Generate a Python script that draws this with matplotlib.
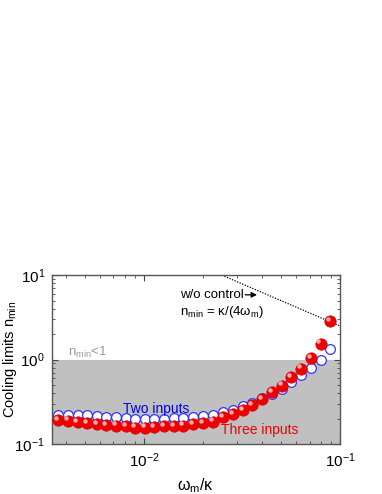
import matplotlib
matplotlib.use("Agg")
import matplotlib.pyplot as plt
from matplotlib.ticker import LogLocator, NullFormatter

plt.rcParams['font.family'] = ['Liberation Sans', 'DejaVu Sans']
plt.rcParams['mathtext.fontset'] = 'custom'
plt.rcParams['mathtext.rm'] = 'Liberation Sans'
plt.rcParams['mathtext.it'] = 'Liberation Sans'

# omega_m / kappa
wm = [0.00366, 0.00411, 0.00459, 0.00514, 0.00575, 0.00645, 0.00723, 0.00809,
      0.00903, 0.0101, 0.0113, 0.0127, 0.0142, 0.0159, 0.0179, 0.0201, 0.0226,
      0.0254, 0.0286, 0.0320, 0.0358, 0.0401, 0.0450, 0.0504, 0.0565, 0.0632,
      0.0709, 0.0796, 0.0889]

two_inputs = [0.224, 0.224, 0.222, 0.220, 0.216, 0.212, 0.207, 0.203, 0.200,
              0.198, 0.198, 0.200, 0.202, 0.205, 0.210, 0.216, 0.224, 0.239,
              0.254, 0.279, 0.310, 0.349, 0.393, 0.454, 0.540, 0.650, 0.800,
              1.00, 1.32]

three_inputs = [0.192, 0.190, 0.183, 0.178, 0.172, 0.167, 0.166, 0.162, 0.157,
                0.157, 0.159, 0.162, 0.163, 0.166, 0.171, 0.178, 0.185, 0.208,
                0.228, 0.254, 0.289, 0.340, 0.414, 0.493, 0.617, 0.785, 1.05,
                1.55, 2.85]

# w/o control: n_min = kappa/(4 omega_m)
noctrl_x = [0.025, 0.1]
noctrl_y = [10.0, 2.5]

fig = plt.figure(figsize=(3.82, 4.94), dpi=100)
ax = fig.add_axes([0.136, 0.101, 0.754, 0.342])

ax.set_xscale('log')
ax.set_yscale('log')
ax.set_xlim(0.0034, 0.1)
ax.set_ylim(0.1, 10)

ax.axhspan(0.1, 1.0, color='#c0c0c0', zorder=0, lw=0)

ax.plot(noctrl_x, noctrl_y, ls=(0, (1, 1.2)), color='black', lw=0.9, zorder=2)

ax.plot(wm, two_inputs, 'o', ms=7, mfc='white', mec='#3333ff', mew=0.9, zorder=3)
ax.plot(wm, three_inputs, 'o', ms=8.2, mfc='#ee0000', mec='#dd0000', mew=0.5, zorder=4)
# highlight on the spheres
ax.plot(wm, three_inputs, 'o', ms=3.2, mfc='#ffb0b0', mec='none', zorder=5,
        transform=ax.transData + matplotlib.transforms.ScaledTranslation(-1.5/72, 1.5/72, fig.dpi_scale_trans))

ax.text(0.0041, 1.12, r'n$_{\rm min}$<1', color='#999999', fontsize=9.5)
ax.text(0.0078, 0.235, 'Two inputs', color='#0000ee', fontsize=10)
ax.text(0.0246, 0.133, 'Three inputs', color='#ee0000', fontsize=10)
ax.text(0.0153, 5.3, 'w/o control', color='black', fontsize=9.5)
ax.annotate('', xy=(0.0390, 5.85), xytext=(0.0318, 5.85),
            arrowprops=dict(arrowstyle='-|>', color='black', lw=0.9, mutation_scale=8))
ax.text(0.0153, 3.4, r'n$_{\rm min}$ = κ/(4ω$_{\rm m}$)', color='black', fontsize=9.5)

ax.set_xlabel(r'ω$_{\rm m}$/κ', fontsize=11.5)
ax.set_ylabel(r'Cooling limits n$_{\rm min}$', fontsize=10.5)
ax.yaxis.set_label_coords(-0.115, 0.5)
ax.xaxis.set_label_coords(0.5, -0.19)

ax.xaxis.set_major_locator(LogLocator(base=10, numticks=10))
ax.xaxis.set_minor_locator(LogLocator(base=10, subs=range(2, 10), numticks=20))
ax.xaxis.set_minor_formatter(NullFormatter())
ax.yaxis.set_minor_formatter(NullFormatter())
ax.tick_params(which='both', direction='in', top=True, right=True, labelsize=11, color='#444444')
ax.tick_params(which='major', length=4, pad=5)
ax.tick_params(which='minor', length=2)
for s in ax.spines.values():
    s.set_color('#555555')
    s.set_linewidth(1.0)

fig.savefig('out.png', dpi=100)
